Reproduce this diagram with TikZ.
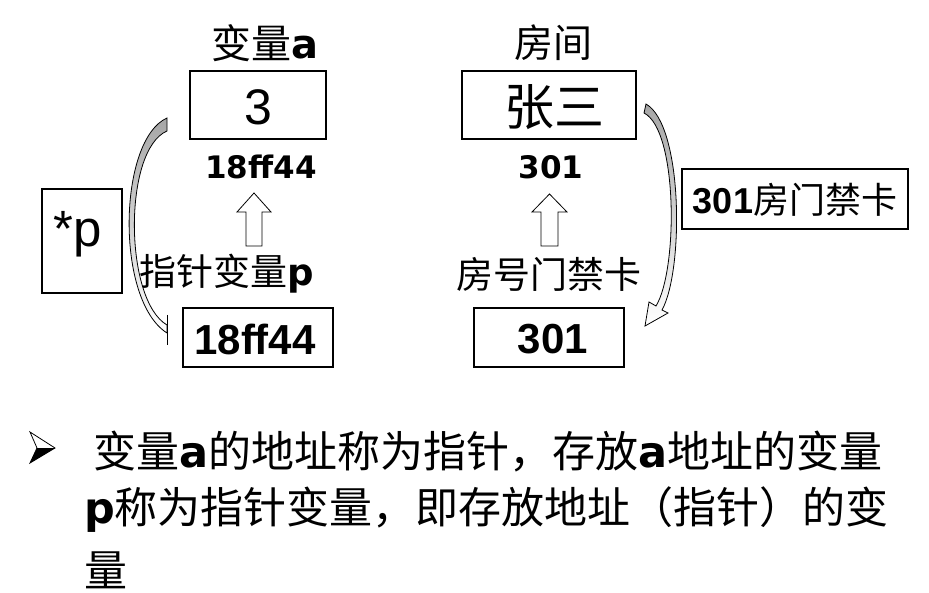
\documentclass[tikz,border=0pt]{standalone}
\usepackage{fontspec}
\setmainfont{Liberation Sans}
\newfontfamily\cjk{Noto Sans CJK SC}
\newfontfamily\dvs{DejaVu Sans}
\newcommand{\myfs}[1]{\fontsize{#1pt}{#1pt}\selectfont}
\newcommand{\ck}[1]{{\cjk #1}}
\newcommand{\dvb}[1]{{\dvs\bfseries #1}}
\begin{document}
\begin{tikzpicture}[x=1pt,y=-1pt,
  box/.style={draw, line width=1.2pt, inner sep=0pt},
  txt/.style={inner sep=0pt, anchor=center},
  hollow/.style={draw, line width=0.8pt, fill=white},
  curvedband/.style={draw, line width=0.8pt, top color=black!35, bottom color=white}]
\useasboundingbox (0,0) rectangle (929,593);
\fill[white] (0,0) rectangle (929,593);

% titles
\node[txt] (tA) at (265,43) {\myfs{40}\ck{变量}\dvb{a}};
\node[txt] (tR) at (553,43) {\myfs{39}\ck{房间}};

% boxes
\node[box, minimum width=136pt, minimum height=68pt] (bA) at (258,105) {};
\node[txt] (vA) at (258,107) {\myfs{50}3};
\node[box, minimum width=174pt, minimum height=68pt] (bR) at (549,105) {};
\node[txt] (vR) at (554,107) {\myfs{50}\ck{张三}};

\node[box, minimum width=150pt, minimum height=59pt] (bP) at (258,337.5) {};
\node[txt] (vP) at (255,339) {\myfs{42}\bfseries 18ff44};
\node[box, minimum width=150pt, minimum height=59pt] (bK) at (549,337.5) {};
\node[txt] (vK) at (553,339) {\myfs{42}\bfseries 301};

\node[box, minimum width=80pt, minimum height=104pt] (bS) at (82,241) {};
\node[txt] (vS) at (78,234) {\myfs{51}*p};

\node[box, minimum width=226pt, minimum height=60pt] (bC) at (795,199) {};
\node[txt] (vC) at (795,200) {\myfs{36}\textbf{301}\ck{房门禁卡}};

% address labels
\node[txt] (aA) at (261,167) {\myfs{31}\dvb{18ff44}};
\node[txt] (aR) at (551,167) {\myfs{31}\dvb{301}};

% names
\node[txt] (nP) at (227,274) {\myfs{37}\ck{指针变量}\dvb{p}};
\node[txt] (nK) at (549,274) {\myfs{37}\ck{房号门禁卡}};

% hollow up arrows
\path[hollow] (246,246) -- (246,212) -- (237,212) -- (254,193) -- (271,212) -- (262,212) -- (262,246) -- cycle;
\path[hollow] (541,246) -- (541,212) -- (532,212) -- (549.5,194) -- (567,212) -- (558,212) -- (558,246) -- cycle;

% left curved arrow
\path[curvedband] (167,118) .. controls (118,140) and (115,300) .. (167,333)
  -- (167,325) .. controls (124,300) and (123,150) .. (167,131) -- cycle;
\draw[line width=0.8pt] (167,315) -- (167,345);

% right curved arrow
\path[curvedband] (646,104) .. controls (683,125) and (684,270) .. (662,310)
  -- (668,313) -- (645,326) -- (649,302) -- (656,306)
  .. controls (678,270) and (678,130) .. (644,113) -- cycle;

% bullet
\fill[white] (30,432) -- (55,448) -- (37,448) -- cycle;
\fill (37,448) -- (55,448) -- (30,463) -- cycle;
\draw[line width=0.8pt] (30,432) -- (55,448) -- (30,463) -- (37,448) -- cycle;

% bottom text
\node[txt, anchor=west] (L1) at (93,452) {\myfs{43}\ck{变量}\dvb{a}\ck{的地址称为指针，存放}\dvb{a}\ck{地址的变量}};
\node[txt, anchor=west] (L2) at (84,510) {\myfs{43}\dvb{p}\ck{称为指针变量，即存放地址（指针）的变}};
\node[txt, anchor=west] (L3) at (84,570) {\myfs{43}\ck{量}};
\end{tikzpicture}
\end{document}
